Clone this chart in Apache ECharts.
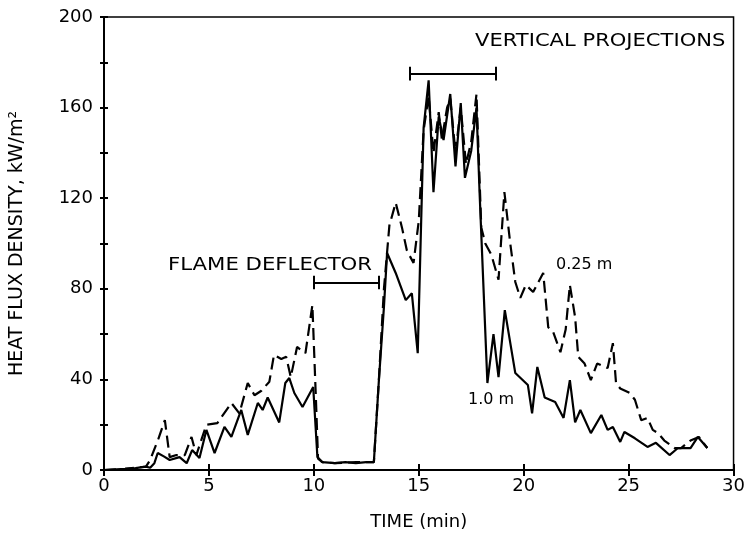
<!DOCTYPE html>
<html>
<head>
<meta charset="utf-8">
<script src="https://cdn.jsdelivr.net/npm/echarts@6/dist/echarts.min.js"></script>
<style>html,body{margin:0;padding:0;background:#fff;}#c{width:748px;height:548px;}</style>
</head>
<body>
<div id="c"></div>
<script>
// 1.0 m series (solid)
const time10 = [0,1,1.5,2,2.2,2.4,2.56,2.85,3.13,3.6,3.94,4.2,4.55,4.88,5.27,5.74,6.07,6.54,6.85,7.33,7.56,7.8,8.35,8.64,8.83,9.07,9.46,9.97,10.17,10.4,11,11.5,12,12.5,12.86,13.1,13.34,13.49,13.9,14.38,14.67,14.95,15.23,15.47,15.7,15.95,16.18,16.5,16.75,17.0,17.2,17.5,17.75,17.9,18.27,18.56,18.8,19.1,19.6,20.2,20.4,20.65,21.0,21.5,21.9,22.2,22.45,22.7,23.2,23.7,24.0,24.25,24.6,24.8,25.3,25.9,26.3,26.95,27.35,27.95,28.3,28.75];
const flux10 = [0,0.5,0.8,1.5,1,3,7.5,6,4.4,5.7,3,8.8,5.3,17.7,7.5,19,14.6,26.5,15.5,29.6,26.5,32,21,38.4,40.6,34,27.8,36.6,5.7,3.5,3,3.5,3,3.5,3.5,39.7,72,95.8,87,75,78,51.6,151,172,122.7,156,145.7,166,134,162,129,141,160,122,38.4,60,41,70.6,42.8,37.5,25,45.5,32,30,23,39.7,21,26.5,16.3,24.3,17.7,19,12.4,16.8,14,10.2,12,6.6,9.7,9.7,14.6,9.7];
// 0.25 m series (dashed)
const time025 = [0,1,2,2.2,2.6,2.9,3.13,3.45,3.85,4.17,4.4,4.88,5.4,6.07,6.45,6.85,7.17,7.5,7.88,8.1,8.45,8.68,8.9,9.2,9.6,9.93,10.1,10.2,10.4,11,12,12.86,13.1,13.34,13.6,13.9,14.2,14.43,14.75,15.0,15.23,15.47,15.7,15.95,16.1,16.35,16.5,16.75,17.0,17.25,17.5,17.75,17.98,18.17,18.46,18.8,19.08,19.36,19.6,19.84,20.1,20.45,20.93,21.17,21.4,21.75,22.0,22.2,22.45,22.6,22.9,23.2,23.5,24.0,24.25,24.4,24.6,25.05,25.3,25.6,25.9,26.15,26.4,26.7,27.2,27.5,27.95,28.35,28.75];
const flux025 = [0,0.5,1.5,4.4,14,22,5.7,6.6,6.6,14.6,6.6,20,20.7,29.6,25,38.4,33,35,39,50.8,49,50,41,54.3,51.6,72.8,31,5,3.5,3,3.5,3.5,40,80,108,118,107,97,91.4,110,150,165,140,158,146,160,164,140,160,135,145,166,107,100,95,84,122.7,100,83,76,81.7,78.6,87,63,61,52,62,81.7,67.5,50,47,39.7,47,45,56,38.4,36,34,31,22,23,17.7,16.3,13,9.7,9.7,13,14.6,9.7];
// annotation brackets (data units)
const deflectorSpan = [10, 13.1, 82.8];
const projectionSpan = [14.55, 18.65, 175];
const xTicks = {min: 0, max: 30, interval: 5};
const yTicks = {min: 0, max: 200, interval: 20, labelEvery: 40};

const zip = (a, b) => a.map((t, i) => [t, b[i]]);
const FONT = '"DejaVu Sans", sans-serif';
const FS = 18;
const chart = echarts.init(document.getElementById('c'), null, {renderer: 'canvas'});

function bracket(span, cap) {
  const [x0, x1, y] = span;
  return [
    [{coord: [x0, y]}, {coord: [x1, y]}],
    [{coord: [x0, y - cap]}, {coord: [x0, y + cap]}],
    [{coord: [x1, y - cap]}, {coord: [x1, y + cap]}]
  ];
}

const axisBase = {
  axisLine: {show: true, lineStyle: {color: '#000', width: 2}},
  splitLine: {show: false}
};

chart.setOption({
  animation: false,
  backgroundColor: '#fff',
  grid: {left: 104, right: 12, top: 17, bottom: 78, show: true, borderColor: '#000', borderWidth: 1.5},
  xAxis: [
    Object.assign({}, axisBase, {
      type: 'value', min: xTicks.min, max: xTicks.max, interval: xTicks.interval,
      name: 'TIME (min)', nameLocation: 'middle', nameGap: 43,
      nameTextStyle: {fontFamily: FONT, fontSize: FS, color: '#000'},
      axisTick: {show: true, inside: false, length: 6, lineStyle: {color: '#000', width: 2}},
      axisLabel: {fontFamily: FONT, fontSize: FS, color: '#000', margin: 7}
    }),
    Object.assign({}, axisBase, {
      type: 'value', min: xTicks.min, max: xTicks.max, interval: xTicks.interval, position: 'bottom',
      axisTick: {show: true, inside: true, length: 6, lineStyle: {color: '#000', width: 2}},
      axisLabel: {show: false}
    })
  ],
  yAxis: [
    Object.assign({}, axisBase, {
      type: 'value', min: yTicks.min, max: yTicks.max, interval: yTicks.interval,
      name: 'HEAT FLUX DENSITY, kW/m²', nameLocation: 'middle', nameGap: 77,
      nameTextStyle: {fontFamily: FONT, fontSize: 19, color: '#000'},
      axisTick: {show: true, inside: false, length: 4, lineStyle: {color: '#000', width: 2}},
      axisLabel: {fontFamily: FONT, fontSize: FS, color: '#000', margin: 11,
        formatter: v => (v % yTicks.labelEvery === 0 ? String(v) : '')}
    }),
    Object.assign({}, axisBase, {
      type: 'value', min: yTicks.min, max: yTicks.max, interval: yTicks.interval, position: 'left',
      axisTick: {show: true, inside: true, length: 4, lineStyle: {color: '#000', width: 2}},
      axisLabel: {show: false}
    })
  ],
  series: [
    {
      name: '1.0 m', type: 'line', data: zip(time10, flux10), showSymbol: false, symbol: 'none',
      lineStyle: {color: '#000', width: 2.2}
    },
    {
      name: '0.25 m', type: 'line', data: zip(time025, flux025), showSymbol: false, symbol: 'none',
      lineStyle: {color: '#000', width: 2.2, type: [12, 6]},
      markLine: {
        silent: true, symbol: 'none', label: {show: false},
        lineStyle: {color: '#000', width: 2, type: 'solid'},
        data: bracket(deflectorSpan, 3).concat(bracket(projectionSpan, 3))
      }
    }
  ],
  graphic: [
    {type: 'text', x: 168, y: 256, scaleX: 1.18, style: {text: 'FLAME DEFLECTOR', font: FS + 'px ' + FONT, fill: '#000'}},
    {type: 'text', x: 475, y: 32, scaleX: 1.17, style: {text: 'VERTICAL PROJECTIONS', font: FS + 'px ' + FONT, fill: '#000'}},
    {type: 'text', x: 556, y: 257, style: {text: '0.25 m', font: '16px ' + FONT, fill: '#000'}},
    {type: 'text', x: 468, y: 392, style: {text: '1.0 m', font: '16px ' + FONT, fill: '#000'}}
  ]
});
</script>
</body>
</html>
